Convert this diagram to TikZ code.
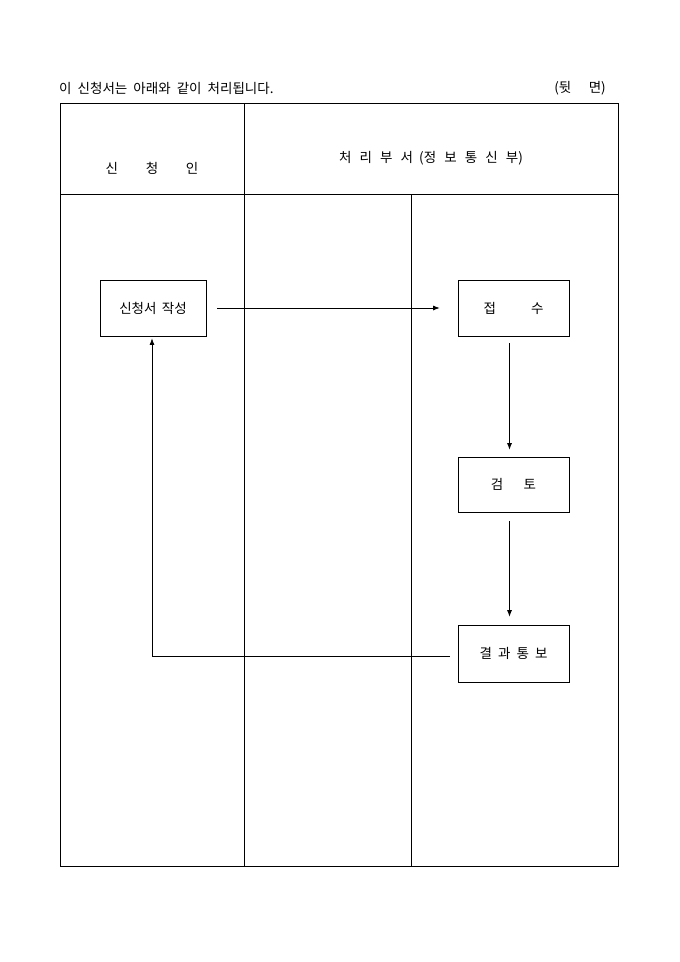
\documentclass[tikz,border=0pt]{standalone}
\usepackage{fontspec}
\setmainfont{Noto Sans CJK KR}
\usetikzlibrary{arrows.meta,positioning}
\newcommand\txtfont{\fontsize{13.5}{15}\selectfont\spaceskip=0.45em\relax}
\newcommand\boxfont{\fontsize{13.5}{15}\selectfont\spaceskip=0.4em\relax}

\begin{document}
\begin{tikzpicture}
[x=1pt,y=-1pt,
box/.style={draw=black,line width=0.8pt,minimum width=106pt,minimum height=56pt,inner sep=0pt,font=\boxfont},
flow/.style={line width=0.7pt,-{Latex[length=6.5pt,width=5pt]}},
txt/.style={inner sep=0pt,font=\txtfont}]

\useasboundingbox (0,0) rectangle (680,962);

\node[txt,anchor=west] (A) at (59,88) {이 신청서는 아래와 같이 처리됩니다.};
\node[txt,anchor=east] (B) at (606,88) {(뒷\hspace{1.3em}면)};

% table
\draw[line width=0.8pt] (60,103) rectangle (618,866);
\draw[line width=0.8pt] (60,194) -- (618,194);
\draw[line width=0.8pt] (244,103) -- (244,866);
\draw[line width=0.8pt] (411,194) -- (411,866);

\node[txt] (C) at (152,168) {신\hspace{2.05em}청\hspace{2.05em}인};
\node[txt] (D) at (431,158) {처\hspace{0.6em}리\hspace{0.6em}부\hspace{0.6em}서\hspace{0.45em}(정\hspace{0.6em}보\hspace{0.6em}통\hspace{0.6em}신\hspace{0.6em}부)};

\node[box] (1) at (153,308) {신청서 작성};
\node[box,minimum width=111pt] (2) at (513.5,308) {접\hspace{2.6em}수};
\node[box,minimum width=111pt,minimum height=55pt] (3) at (513.5,484.5) {검\hspace{1.5em}토};
\node[box,minimum width=111pt,minimum height=57pt] (4) at (513.5,653.5) {결\hspace{0.45em}과\hspace{0.45em}통\hspace{0.45em}보};

\draw[flow,shorten <=11pt,shorten >=18pt] (1) -- (2);
\draw[flow,shorten <=7pt,shorten >=7pt] ([xshift=-4pt]2.south) -- ([xshift=-4pt]3.north);
\draw[flow,shorten <=9pt,shorten >=8pt] ([xshift=-4pt]3.south) -- ([xshift=-4pt]4.north);
\draw[flow,shorten <=8pt,shorten >=2pt] ([yshift=-3pt]4.west) -| ([xshift=-1pt]1.south);
\end{tikzpicture}
\end{document}
